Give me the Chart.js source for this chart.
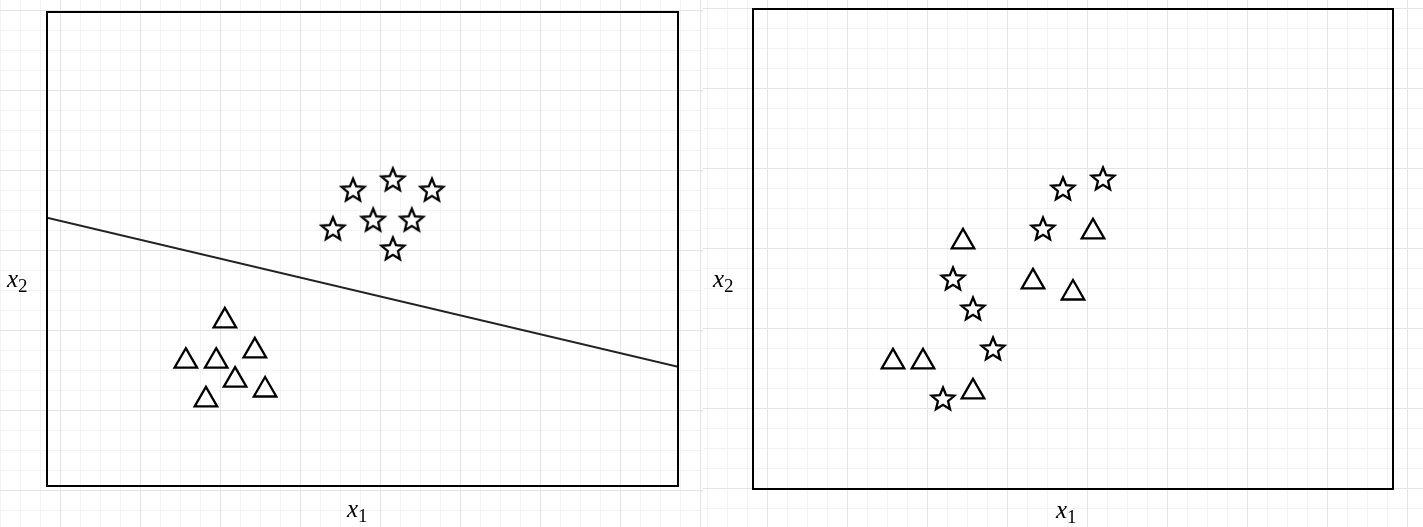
<!DOCTYPE html>
<html>
<head>
<meta charset="utf-8">
<script src="https://cdn.jsdelivr.net/npm/chart.js@4"></script>
<style>
  html, body { margin:0; padding:0; width:1423px; height:527px; overflow:hidden; background:#fff; }
  .pane { position:absolute; top:0; height:527px; }
  .grid {
    background-image:
      linear-gradient(to right, #e4e4e4 1px, transparent 1px),
      linear-gradient(to bottom, #e4e4e4 1px, transparent 1px),
      linear-gradient(to right, #f2f2f2 1px, transparent 1px),
      linear-gradient(to bottom, #f2f2f2 1px, transparent 1px);
    background-size: 80px 80px, 80px 80px, 20px 20px, 20px 20px;
  }
  #leftPane { left:0; width:703px; background-position: 60px 10px, 60px 10px, 0 10px, 0 10px; }
  #rightPane { left:703px; width:720px; background-position: 64px 8px, 64px 8px, 4px 8px, 4px 8px; }
  canvas { position:absolute; top:0; left:0; }
  .lab { position:absolute; font-family:"Liberation Serif","DejaVu Serif",serif; font-size:25px; line-height:25px; color:#000; white-space:nowrap; }
  .lab .sub { font-size:19px; position:relative; top:5px; font-style:normal; }
</style>
</head>
<body>
<div class="pane grid" id="leftPane">
  <canvas id="chartLeft" width="703" height="527"></canvas>
  <div class="lab" style="left:7px;top:266px"><i>x</i><span class="sub">2</span></div>
  <div class="lab" style="left:347px;top:496px"><i>x</i><span class="sub">1</span></div>
</div>
<div class="pane grid" id="rightPane">
  <canvas id="chartRight" width="720" height="527"></canvas>
  <div class="lab" style="left:10px;top:266px"><i>x</i><span class="sub">2</span></div>
  <div class="lab" style="left:353px;top:497px"><i>x</i><span class="sub">1</span></div>
</div>
<script>
// left plot: separable classes + decision line
const leftStars = [
  {x:7.76,y:7.49},{x:8.77,y:7.75},{x:9.76,y:7.49},
  {x:7.25,y:6.51},{x:8.27,y:6.73},{x:9.25,y:6.73},
  {x:8.77,y:6.00}
];
const leftTriangles = [
  {x:4.51,y:4.18},{x:3.52,y:3.16},{x:4.29,y:3.16},{x:5.27,y:3.42},
  {x:4.77,y:2.68},{x:4.03,y:2.18},{x:5.53,y:2.43}
];
const leftLine = [{x:0,y:6.79},{x:16,y:3.02}];

// right plot: mixed classes
const rightStars = [
  {x:7.75,y:7.5},{x:8.75,y:7.75},{x:7.25,y:6.5},{x:5.0,y:5.25},
  {x:5.5,y:4.5},{x:6.0,y:3.5},{x:4.75,y:2.25}
];
const rightTriangles = [
  {x:5.25,y:6.18},{x:8.5,y:6.43},{x:7.0,y:5.18},{x:8.0,y:4.9},
  {x:3.5,y:3.18},{x:4.25,y:3.18},{x:5.5,y:2.43}
];

const xRange = [0, 16];
const yRange = [0, 12];

// five pointed star outline, Chart.js 'star' is an asterisk so draw our own
function makeStar(){
  let c = document.createElement("canvas");
  c.width = 30; c.height = 30;
  let g = c.getContext("2d");
  let R = 12, r = 5.3, cx = 15, cy = 15.5;
  g.beginPath();
  for (let i = 0; i < 10; i++){
    let a = -Math.PI/2 + i*Math.PI/5;
    let rad = i % 2 ? r : R;
    let px = cx + rad*Math.cos(a), py = cy + rad*Math.sin(a);
    i ? g.lineTo(px, py) : g.moveTo(px, py);
  }
  g.closePath();
  g.lineWidth = 2.3;
  g.lineJoin = "miter";
  g.strokeStyle = "#000";
  g.stroke();
  return c;
}
const starImg = makeStar();

const frame = {
  id: "frame",
  afterDraw(chart){
    const a = chart.chartArea, ctx = chart.ctx;
    ctx.save();
    ctx.strokeStyle = "#000";
    ctx.lineWidth = 2;
    ctx.strokeRect(a.left, a.top, a.right - a.left, a.bottom - a.top);
    ctx.restore();
  }
};

function makeChart(id, stars, tris, line, pad){
  let datasets = [
    { data: stars, pointStyle: starImg, pointRadius: 12, borderWidth: 0 },
    { data: tris, pointStyle: "triangle", pointRadius: 13, borderWidth: 2.3,
      borderColor: "#000", backgroundColor: "rgba(0,0,0,0)" }
  ];
  if (line) {
    datasets.push({ data: line, showLine: true, pointRadius: 0,
      borderColor: "#222", borderWidth: 2, fill: false });
  }
  return new Chart(document.getElementById(id), {
    type: "scatter",
    data: { datasets: datasets },
    options: {
      responsive: false,
      animation: false,
      events: [],
      devicePixelRatio: 1,
      layout: { padding: pad, autoPadding: false },
      plugins: { legend: { display: false }, tooltip: { enabled: false } },
      scales: {
        x: { type: "linear", min: xRange[0], max: xRange[1], display: false },
        y: { type: "linear", min: yRange[0], max: yRange[1], display: false }
      }
    },
    plugins: [frame]
  });
}

makeChart("chartLeft", leftStars, leftTriangles, leftLine, {left:47, top:12, right:25, bottom:41});
makeChart("chartRight", rightStars, rightTriangles, null, {left:50, top:9, right:30, bottom:38});
</script>
</body>
</html>
